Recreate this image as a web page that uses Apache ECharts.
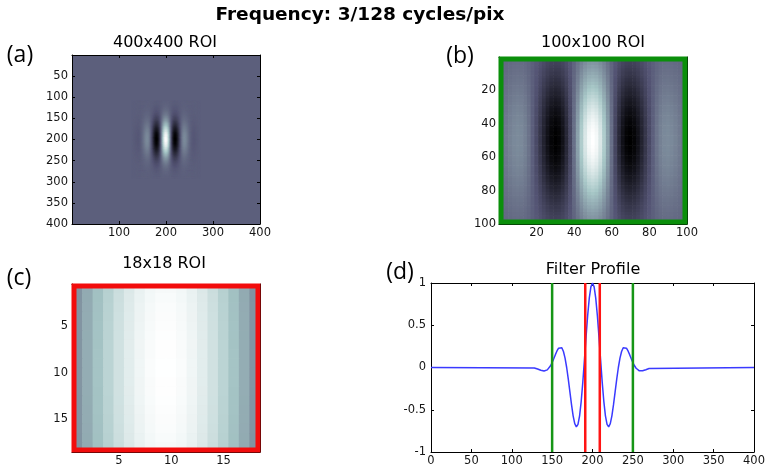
<!DOCTYPE html>
<html><head><meta charset="utf-8">
<script src="https://cdn.jsdelivr.net/npm/echarts@6/dist/echarts.min.js"></script>
<style>html,body{margin:0;padding:0;background:#fff}#chart{width:768px;height:471px}</style>
</head><body><div id="chart"></div>
<script>
// ---------- data ----------
const mainTitle = 'Frequency: 3/128 cycles/pix';
const panelTitles = ['400x400 ROI', '100x100 ROI', '18x18 ROI', 'Filter Profile'];
const panelLetters = ['(a)', '(b)', '(c)', '(d)'];

const filterCenter = 200;      // pixel of the filter peak
const sampleStep = 2;          // pixel spacing of the sampled profile / envelope
// horizontal filter profile, offsets -72 .. 72 (step 2)
const profileValues = [
  -0.005,-0.011,-0.018,-0.026,-0.033,-0.039,-0.042,-0.039,-0.028,-0.009,
  0.021,0.059,0.104,0.152,0.196,0.229,0.244,0.233,0.189,0.111,
  0.000,-0.137,-0.289,-0.440,-0.572,-0.665,-0.703,-0.674,-0.572,-0.400,
  -0.173,0.090,0.363,0.616,0.821,0.954,
  1.000,
  0.954,0.821,0.616,0.363,0.090,-0.173,
  -0.400,-0.572,-0.674,-0.703,-0.665,-0.572,-0.440,-0.289,-0.137,0.000,
  0.111,0.189,0.233,0.244,0.229,0.196,0.152,0.104,0.059,0.021,
  -0.009,-0.028,-0.039,-0.042,-0.039,-0.033,-0.026,-0.018,-0.011,-0.005
];
// vertical envelope, offsets -90 .. 90 (step 2)
const envelopeValues = [
  0.011,0.014,0.016,0.020,0.024,0.029,0.034,0.040,0.048,0.056,
  0.066,0.077,0.089,0.103,0.118,0.135,0.154,0.175,0.198,0.223,
  0.249,0.278,0.309,0.341,0.375,0.411,0.448,0.487,0.526,0.566,
  0.607,0.647,0.687,0.726,0.764,0.801,0.835,0.867,0.897,0.923,
  0.946,0.965,0.980,0.991,0.998,
  1.000,
  0.998,0.991,0.980,0.965,0.946,
  0.923,0.897,0.867,0.835,0.801,0.764,0.726,0.687,0.647,0.607,
  0.566,0.526,0.487,0.448,0.411,0.375,0.341,0.309,0.278,0.249,
  0.223,0.198,0.175,0.154,0.135,0.118,0.103,0.089,0.077,0.066,
  0.056,0.048,0.040,0.034,0.029,0.024,0.020,0.016,0.014,0.011
];
// 18x18 ROI pixel columns / rows
const roi18Cols = [0.295,0.429,0.556,0.672,0.775,0.861,0.928,0.974,0.997,0.997,0.974,0.928,0.861,0.775,0.672,0.556,0.429,0.295];
const roi18Rows = [0.961,0.969,0.977,0.983,0.989,0.993,0.997,0.999,1.000,1.000,0.999,0.997,0.993,0.989,0.983,0.977,0.969,0.961];

const roi100Bounds = [150, 250];
const roi18Bounds = [191, 209];
const colorRange = [-0.703, 1];

// axis ranges and ticks
const rangeA = [0, 400], ticksAx = [100, 200, 300, 400], ticksAy = [50, 100, 150, 200, 250, 300, 350, 400];
const rangeB = [0, 100], ticksB = [20, 40, 60, 80, 100];
const rangeC = [0.5, 18.5], ticksC = [5, 10, 15];
const rangeDx = [0, 400], ticksDx = [0, 50, 100, 150, 200, 250, 300, 350, 400];
const rangeDy = [-1, 1], ticksDy = [-1, -0.5, 0, 0.5, 1];

// ---------- build tables ----------
const profileOffset = i => -72 + sampleStep * i;
const envelopeOffset = i => -90 + sampleStep * i;

const heatA = [];
envelopeValues.forEach((ev, i) => {
  profileValues.forEach((pv, j) => {
    heatA.push([filterCenter + profileOffset(j), filterCenter + envelopeOffset(i), pv * ev]);
  });
});
const heatB = [];
const halfB = (roi100Bounds[1] - roi100Bounds[0]) / 2;
envelopeValues.forEach((ev, i) => {
  const dy = envelopeOffset(i);
  if (Math.abs(dy) > halfB) return;
  profileValues.forEach((pv, j) => {
    const dx = profileOffset(j);
    if (Math.abs(dx) > halfB) return;
    heatB.push([halfB + dx, halfB + dy, pv * ev]);
  });
});
const heatC = [];
roi18Rows.forEach((rv, r) => roi18Cols.forEach((cv, c) => heatC.push([c + 1, r + 1, cv * rv])));

const profileLine = [[rangeDx[0], 0]];
profileValues.forEach((v, j) => profileLine.push([filterCenter + profileOffset(j), v]));
profileLine.push([rangeDx[1], 0]);

// ---------- styling ----------
const boneColors = ['#000000','#1c1c27','#38384d','#545474','#707a8f','#8ba1ab','#a7c7c7','#d3e3e3','#ffffff'];
const labelFont = {fontFamily: 'DejaVu Sans', fontSize: 11.5, color: '#151515'};

function cellRenderer(size) {
  return function (params, api) {
    const x = api.value(0), y = api.value(1);
    const p0 = api.coord([x - size / 2, y - size / 2]);
    const p1 = api.coord([x + size / 2, y + size / 2]);
    return {
      type: 'rect',
      shape: {x: Math.min(p0[0], p1[0]) - 0.3, y: Math.min(p0[1], p1[1]) - 0.3,
              width: Math.abs(p1[0] - p0[0]) + 0.6, height: Math.abs(p1[1] - p0[1]) + 0.6},
      style: {fill: api.visual('color')}
    };
  };
}
function borderRenderer(color) {
  return function (params, api) {
    const p0 = api.coord([api.value(0), api.value(1)]);
    const p1 = api.coord([api.value(2), api.value(3)]);
    const inset = 2;
    return {
      type: 'rect',
      shape: {x: Math.min(p0[0], p1[0]) + inset, y: Math.min(p0[1], p1[1]) + inset,
              width: Math.abs(p1[0] - p0[0]) - 2 * inset, height: Math.abs(p1[1] - p0[1]) - 2 * inset},
      style: {fill: null, stroke: color, lineWidth: 5}
    };
  };
}

function axisPair(dim, gridIndex, range, ticks, inverse, labelMargin) {
  const base = {
    type: 'value', gridIndex, min: range[0], max: range[1], inverse: !!inverse,
    splitLine: {show: false},
    axisLine: {show: true, onZero: false, lineStyle: {color: '#000', width: 1}},
  };
  const main = Object.assign({}, base, {
    position: dim === 'x' ? 'bottom' : 'left',
    axisTick: {show: true, inside: true, length: 3, customValues: ticks, lineStyle: {color: '#000'}},
    axisLabel: Object.assign({show: true, margin: labelMargin, customValues: ticks}, labelFont)
  });
  const mirror = Object.assign({}, base, {
    position: dim === 'x' ? 'top' : 'right',
    axisTick: {show: true, inside: true, length: 3, customValues: ticks, lineStyle: {color: '#000'}},
    axisLabel: {show: false}
  });
  return [main, mirror];
}

const grids = [
  {left: 72, top: 55, width: 188, height: 169, show: true, backgroundColor: '#5c5f7c', borderWidth: 0},
  {left: 499, top: 57, width: 188, height: 167},
  {left: 72, top: 284, width: 188, height: 168},
  {left: 431, top: 283, width: 325, height: 169}
];

const xAxes = [].concat(
  axisPair('x', 0, rangeA, ticksAx, false, 3),
  axisPair('x', 1, rangeB, ticksB, false, 3),
  axisPair('x', 2, rangeC, ticksC, false, 3),
  axisPair('x', 3, rangeDx, ticksDx, false, 3)
);
const yAxes = [].concat(
  axisPair('y', 0, rangeA, ticksAy, true, 4),
  axisPair('y', 1, rangeB, ticksB, true, 3),
  axisPair('y', 2, rangeC, ticksC, true, 4),
  axisPair('y', 3, rangeDy, ticksDy, false, 5)
);

function heatSeries(name, g, data, size) {
  return {
    name, type: 'custom', xAxisIndex: 2 * g, yAxisIndex: 2 * g,
    dimensions: ['x', 'y', 'v'], encode: {x: 0, y: 1},
    renderItem: cellRenderer(size), data, clip: true, silent: true
  };
}
function vline(x, color) {
  return {
    type: 'line', xAxisIndex: 6, yAxisIndex: 6, showSymbol: false, silent: true,
    data: [[x, rangeDy[0]], [x, rangeDy[1]]],
    lineStyle: {color, width: 2.5}, z: 5
  };
}

const series = [
  heatSeries('ROI 400', 0, heatA, sampleStep),
  heatSeries('ROI 100', 1, heatB, sampleStep),
  heatSeries('ROI 18', 2, heatC, 1),
  {type: 'custom', xAxisIndex: 2, yAxisIndex: 2, encode: {x: [0, 2], y: [1, 3]},
   renderItem: borderRenderer('#0b8f0b'), data: [[rangeB[0], rangeB[0], rangeB[1], rangeB[1]]], z: 10, silent: true},
  {type: 'custom', xAxisIndex: 4, yAxisIndex: 4, encode: {x: [0, 2], y: [1, 3]},
   renderItem: borderRenderer('#f20c0c'), data: [[rangeC[0], rangeC[0], rangeC[1], rangeC[1]]], z: 10, silent: true},
  {name: 'Filter Profile', type: 'line', xAxisIndex: 6, yAxisIndex: 6, data: profileLine,
   showSymbol: false, silent: true, lineStyle: {color: '#3a3aff', width: 1.5}, z: 3},
  vline(roi100Bounds[0], '#169616'), vline(roi100Bounds[1], '#169616'),
  vline(roi18Bounds[0], '#ff1414'), vline(roi18Bounds[1], '#ff1414')
];

function textEl(text, x, y, font) {
  return {type: 'text', x, y, silent: true,
          style: {text, font, fill: '#000', align: 'center', verticalAlign: 'middle'}};
}
const graphics = [
  textEl(mainTitle, 360, 15, 'bold 18.5px "DejaVu Sans"'),
  textEl(panelTitles[0], 165, 43, '16px "DejaVu Sans"'),
  textEl(panelTitles[1], 593, 43, '16px "DejaVu Sans"'),
  textEl(panelTitles[2], 164, 264, '16px "DejaVu Sans"'),
  textEl(panelTitles[3], 593, 270, '16px "DejaVu Sans"'),
  textEl(panelLetters[0], 20, 55, '23px "Open Sans"'),
  textEl(panelLetters[1], 460, 56, '23px "Open Sans"'),
  textEl(panelLetters[2], 19, 278, '23px "Open Sans"'),
  textEl(panelLetters[3], 400, 272, '23px "Open Sans"')
];

const chart = echarts.init(document.getElementById('chart'), null, {renderer: 'canvas'});
chart.setOption({
  animation: false,
  backgroundColor: '#ffffff',
  grid: grids,
  xAxis: xAxes,
  yAxis: yAxes,
  visualMap: {
    type: 'continuous', show: false, min: colorRange[0], max: colorRange[1],
    dimension: 2, seriesIndex: [0, 1, 2], inRange: {color: boneColors}
  },
  graphic: graphics,
  series
});
</script></body></html>
